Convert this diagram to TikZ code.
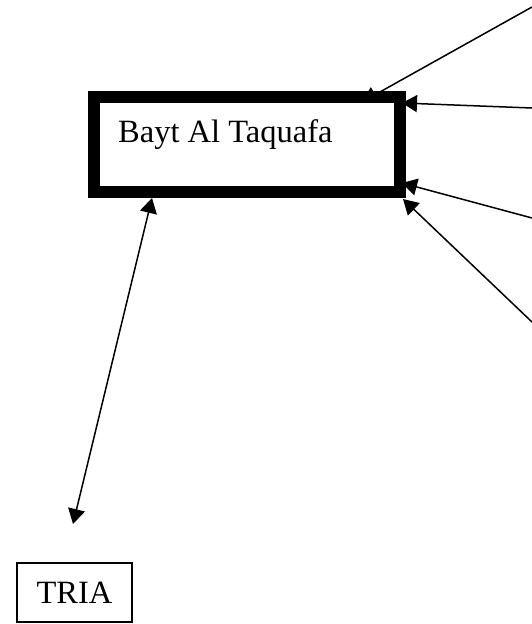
\documentclass[tikz,border=0pt]{standalone}
\usepackage{fontspec}
\setmainfont{Liberation Serif}
\usetikzlibrary{arrows.meta}
\pgfdeclarelayer{background}
\pgfsetlayers{background,main}
\tikzset{
  tip/.tip={Triangle[length=15pt,width=17pt]},
  conn/.style={line width=1.5pt,-tip},
  dconn/.style={line width=1.5pt,tip-tip},
  bigbox/.style={draw,line width=12pt,minimum width=306pt,minimum height=95pt,inner sep=0pt},
  smallbox/.style={draw,line width=1.4pt,minimum width=115pt,minimum height=59pt,inner sep=0pt},
  lbl/.style={font=\fontsize{32.5}{38}\selectfont,inner sep=0pt}
}
\begin{document}
\begin{tikzpicture}[x=1pt,y=-1pt]
\useasboundingbox (0,0) rectangle (532,624);
\coordinate (s1) at (532,7);
\coordinate (t1) at (362,102);
\coordinate (s2) at (532,108);
\coordinate (t2) at (402,103);
\coordinate (s3) at (532,218);
\coordinate (t3) at (402,183);
\coordinate (s4) at (532,322);
\coordinate (t4) at (403,199);
\coordinate (u5) at (152,198);
\coordinate (d5) at (73,524);
\node[bigbox] (bayt) at (247,144.5) {};
\node[lbl,anchor=base west] (baytlbl) at (118,142) {Bayt Al Taquafa};
\node[smallbox,lbl] (tria) at (74.5,592.5) {TRIA};
\begin{pgfonlayer}{background}
\draw[conn] (s1) -- (t1);
\draw[conn] (s2) -- (t2);
\draw[conn] (s3) -- (t3);
\draw[conn] (s4) -- (t4);
\end{pgfonlayer}
\draw[dconn] (u5) -- (d5);
\end{tikzpicture}
\end{document}
